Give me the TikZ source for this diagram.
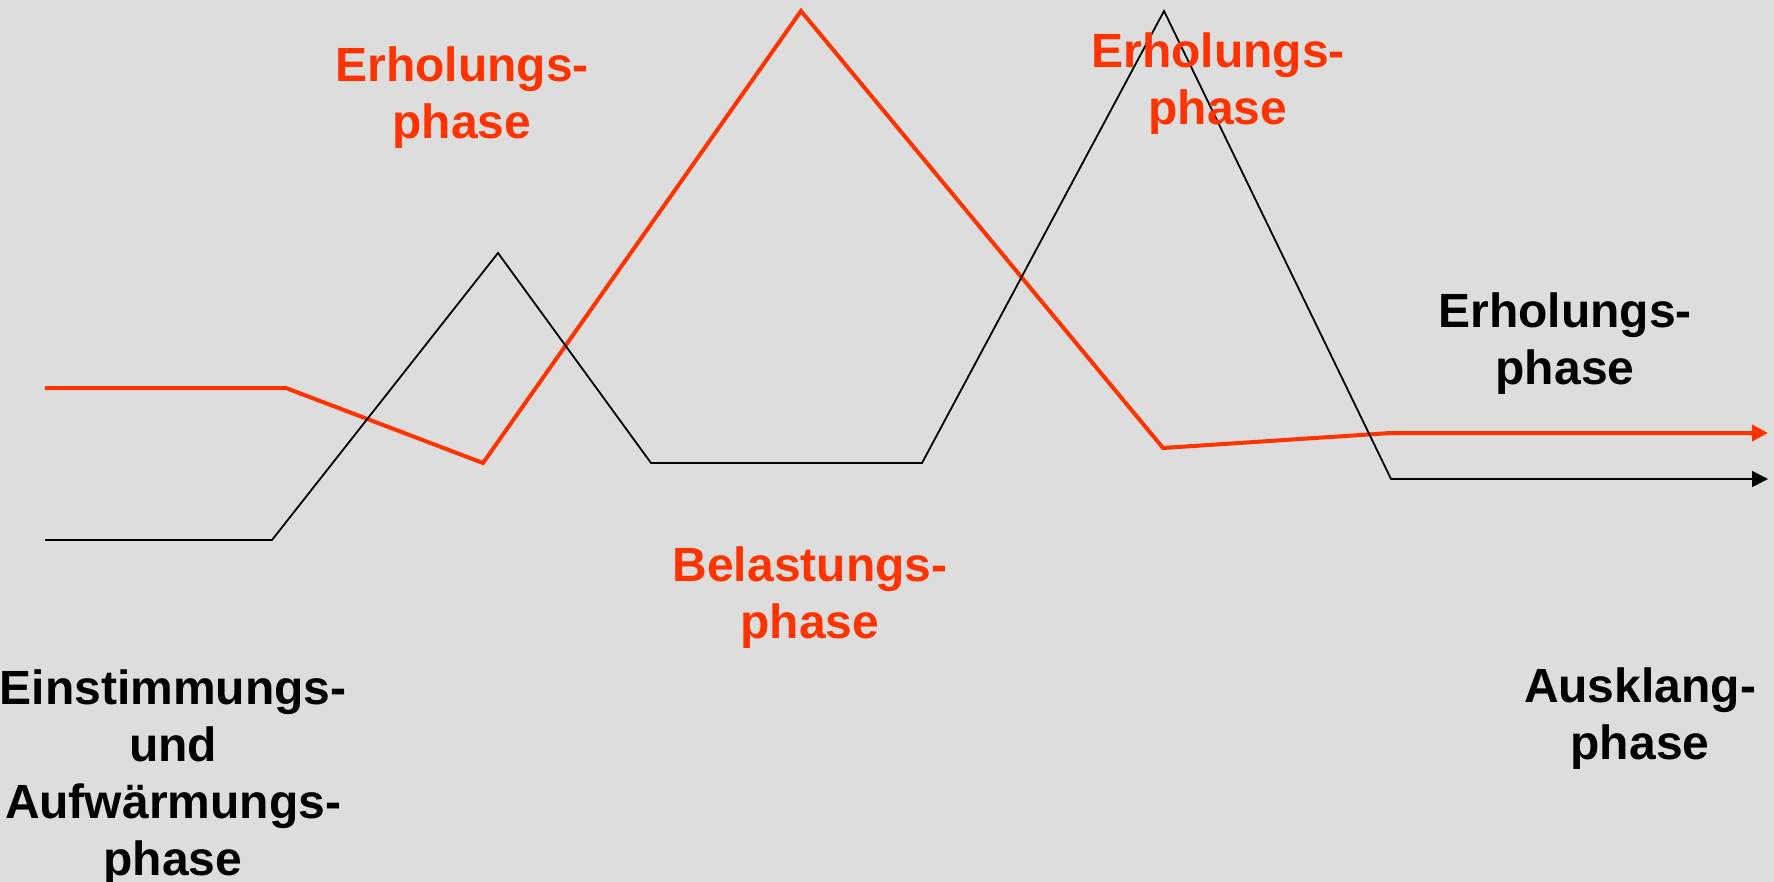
\documentclass[tikz,border=0pt]{standalone}
\usepackage{fontspec}
\setmainfont{Liberation Sans}
\usetikzlibrary{arrows.meta}
\definecolor{bg}{RGB}{221,221,221}
\definecolor{hot}{RGB}{255,51,0}
\begin{document}
\begin{tikzpicture}[x=1pt,y=-1pt,
  lbl/.style={font=\fontsize{48}{57}\selectfont\bfseries, align=center, inner sep=0pt},
  redcurve/.style={draw=hot, line width=4pt, line join=miter, -{Triangle[length=16pt,width=16pt]}},
  blackcurve/.style={draw=black, line width=1.8pt, -{Triangle[length=16pt,width=16pt]}}]
\fill[bg] (0,0) rectangle (1774,882);
\useasboundingbox (0,0) rectangle (1774,882);

% load curve (red)
\coordinate (r0) at (45,388);
\coordinate (r1) at (286,388);
\coordinate (r2) at (483,463);
\coordinate (r3) at (801,11);
\coordinate (r4) at (1163,448);
\coordinate (r5) at (1391,433);
\coordinate (r6) at (1768,433);
\draw[redcurve] (r0) -- (r1) -- (r2) -- (r3) -- (r4) -- (r5) -- (r6);

% second curve (black)
\coordinate (b0) at (45,540);
\coordinate (b1) at (272,540);
\coordinate (b2) at (498,253);
\coordinate (b3) at (651,463);
\coordinate (b4) at (922,463);
\coordinate (b5) at (1164,11);
\coordinate (b6) at (1391,479);
\coordinate (b7) at (1768,479);
\draw[blackcurve] (b0) -- (b1) -- (b2) -- (b3) -- (b4) -- (b5) -- (b6) -- (b7);

% phase labels
\node[lbl, text=hot] (erh1) at (462,98) {Erholungs-\\phase};
\node[lbl, text=hot] (erh2) at (1218,84) {Erholungs-\\phase};
\node[lbl] (erh3) at (1565,344) {Erholungs-\\phase};
\node[lbl, text=hot] (bel) at (810,598) {Belastungs-\\phase};
\node[lbl] (ein) at (173,778) {Einstimmungs-\\und\\Aufwärmungs-\\phase};
\node[lbl] (aus) at (1640,719) {Ausklang-\\phase};
\end{tikzpicture}
\end{document}
